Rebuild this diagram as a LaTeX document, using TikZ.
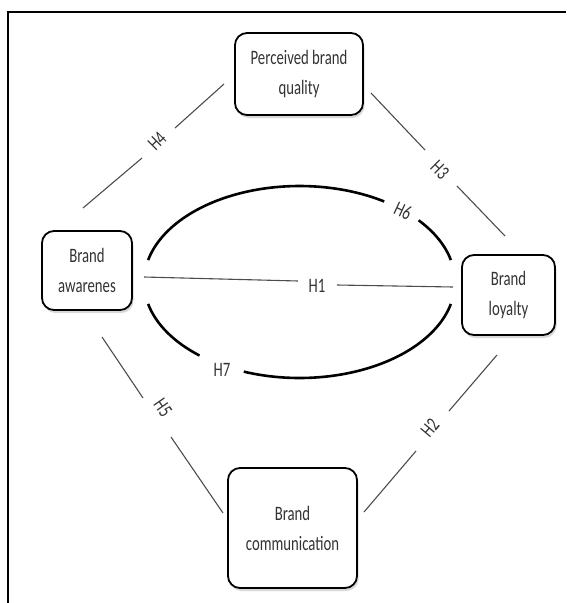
\documentclass[tikz,border=0pt]{standalone}
\usepackage{fontspec}
\setmainfont{Carlito}[FakeStretch=0.72]
\usetikzlibrary{shadows}
\begin{document}
\begin{tikzpicture}[x=1pt,y=-1pt,
  box/.style={draw=black, line width=1.8pt, rounded corners=12pt, fill=white,
    align=center, text=black!80, font=\fontsize{20.5}{30}\selectfont,
    drop shadow={shadow xshift=1.5pt, shadow yshift=-3pt, opacity=0.3}},
  link/.style={draw=black!70, line width=1.1pt},
  oval/.style={draw=black, line width=2.6pt},
  hlab/.style={text=black!80, font=\fontsize{20.5}{22}\selectfont, inner sep=0pt}
]
\useasboundingbox (0,0) rectangle (566,603);
% frame
\draw[line width=2pt] (7.5,603) -- (7.5,11.5) -- (566,11.5);

% boxes
\node[box, minimum width=128pt, minimum height=82pt] (pbq) at (299,74) {Perceived brand\\quality};
\node[box, minimum width=90pt, minimum height=79pt] (aw) at (87,270.5) {Brand\\awarenes};
\node[box, minimum width=93pt, minimum height=80pt] (loy) at (508.5,295) {Brand\\loyalty};
\node[box, minimum width=129pt, minimum height=120pt] (com) at (292.5,528) {Brand\\communication};

% connector ends
\coordinate (a4) at (83,208);   \coordinate (g4a) at (142,158);
\coordinate (g4b) at (175,128); \coordinate (b4) at (224,84);
\coordinate (a3) at (371,93);   \coordinate (g3a) at (425,150);
\coordinate (g3b) at (457,186); \coordinate (b3) at (505,236);
\coordinate (a5) at (102,337);  \coordinate (g5a) at (143,398);
\coordinate (g5b) at (171,437); \coordinate (b5) at (223,513);
\coordinate (a2) at (497,355);  \coordinate (g2a) at (449,411);
\coordinate (g2b) at (416,451); \coordinate (b2) at (364,512);
\coordinate (a1) at (144,277);  \coordinate (g1a) at (298,281);
\coordinate (g1b) at (337,285); \coordinate (b1) at (453,287);

\draw[link] (a4) -- (g4a); \draw[link] (g4b) -- (b4);
\draw[link] (a3) -- (g3a); \draw[link] (g3b) -- (b3);
\draw[link] (a5) -- (g5a); \draw[link] (g5b) -- (b5);
\draw[link] (a2) -- (g2a); \draw[link] (g2b) -- (b2);
\draw[link] (a1) -- (g1a); \draw[link] (g1b) -- (b1);

\node[hlab, rotate=45] (h4) at (157,141) {H4};
\node[hlab, rotate=-45] (h3) at (440,170) {H3};
\node[hlab, rotate=-55] (h5) at (163,408) {H5};
\node[hlab, rotate=50] (h2) at (430,428) {H2};
\node[hlab] (h1) at (317,286) {H1};

% oval
\coordinate (ov) at (299.5,282);
\draw[oval] (ov) ++(-166.8:155.5 and 96) arc[start angle=-166.8, end angle=-57, x radius=155.5, y radius=96];
\draw[oval] (ov) ++(-40:155.5 and 96) arc[start angle=-40, end angle=-13.2, x radius=155.5, y radius=96];
\draw[oval] (ov) ++(13.2:155.5 and 96) arc[start angle=13.2, end angle=111, x radius=155.5, y radius=96];
\draw[oval] (ov) ++(130:155.5 and 96) arc[start angle=130, end angle=166.8, x radius=155.5, y radius=96];
\node[hlab, rotate=-25] (h6) at (403,211) {H6};
\node[hlab] (h7) at (222,370) {H7};
\end{tikzpicture}
\end{document}
